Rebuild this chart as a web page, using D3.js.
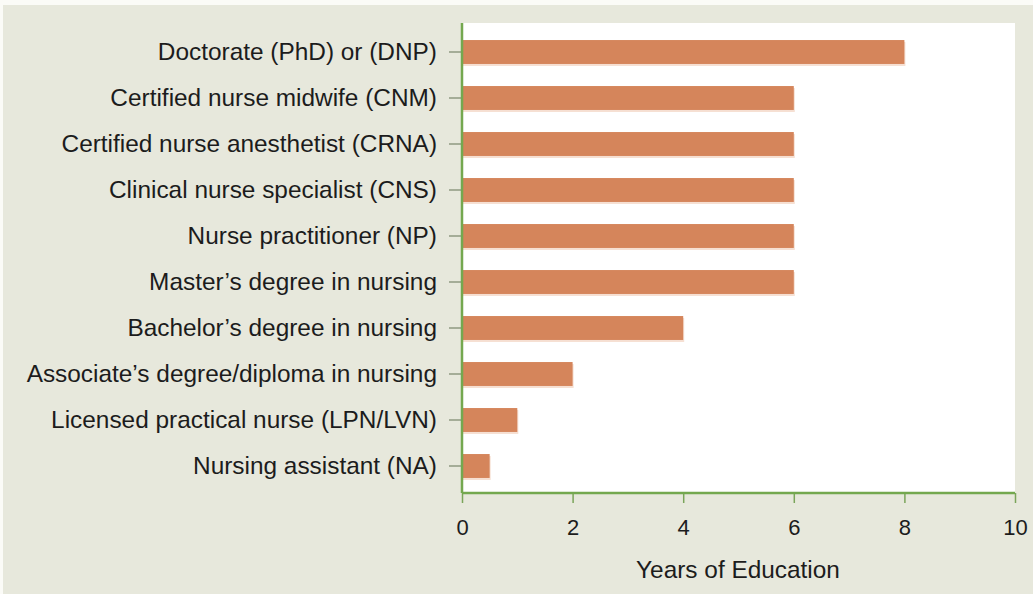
<!DOCTYPE html>
<html lang="en">
<head>
    <meta charset="UTF-8">
    <title>Years of Education</title>
    <script src="https://d3js.org/d3.v7.min.js"></script>
    <style>
        body { margin: 0; background: #fbfbf7; }
        svg { display: block; font-family: "Liberation Sans", Arial, sans-serif; }
        .y-axis text { font-size: 24.4px; fill: #1c1c1c; }
        .x-axis text { font-size: 22px; fill: #1c1c1c; }
        .y-axis .tick line { stroke: #8f9a82; stroke-width: 1.5; }
        .x-axis .tick line { stroke: #7aa55a; stroke-width: 1.5; }
        .domain { display: none; }
        .axis-title { font-size: 24.4px; fill: #1c1c1c; text-anchor: middle; }
    </style>
</head>
<body>
<script>
    const categories = [
        "Doctorate (PhD) or (DNP)",
        "Certified nurse midwife (CNM)",
        "Certified nurse anesthetist (CRNA)",
        "Clinical nurse specialist (CNS)",
        "Nurse practitioner (NP)",
        "Master\u2019s degree in nursing",
        "Bachelor\u2019s degree in nursing",
        "Associate\u2019s degree/diploma in nursing",
        "Licensed practical nurse (LPN/LVN)",
        "Nursing assistant (NA)"
    ];
    const years = [8, 6, 6, 6, 6, 6, 4, 2, 1, 0.5];
    const xTicks = [0, 2, 4, 6, 8, 10];

    const width = 1033, height = 594;
    const plotLeft = 462, plotRight = 1015, plotTop = 23, plotBottom = 493;

    const svg = d3.select("body").append("svg")
        .attr("width", width).attr("height", height);

    // beige panel with a thin light margin top/left
    svg.append("rect").attr("x", 3).attr("y", 5)
        .attr("width", width - 3).attr("height", height - 5)
        .attr("fill", "#e7e8dc");

    svg.append("rect")
        .attr("x", plotLeft).attr("y", plotTop)
        .attr("width", plotRight - plotLeft).attr("height", plotBottom - plotTop)
        .attr("fill", "#ffffff");

    const x = d3.scaleLinear().domain([0, 10]).range([plotLeft, plotRight]);
    const y = d3.scaleBand().domain(categories).range([29, 489])
        .paddingInner(0.48).paddingOuter(0.24);

    const data = categories.map((c, i) => ({cat: c, val: years[i]}));

    // soft shadow under bars
    svg.append("g").selectAll("rect").data(data).join("rect")
        .attr("x", x(0)).attr("y", d => y(d.cat) + 2)
        .attr("width", d => x(d.val) - x(0) + 1)
        .attr("height", y.bandwidth())
        .attr("fill", "#f6dfd2");

    svg.append("g").selectAll("rect").data(data).join("rect")
        .attr("x", x(0)).attr("y", d => y(d.cat))
        .attr("width", d => x(d.val) - x(0))
        .attr("height", y.bandwidth())
        .attr("fill", "#d5855b");

    svg.append("g").attr("class", "y-axis")
        .attr("transform", `translate(${plotLeft - 1},0)`)
        .call(d3.axisLeft(y).tickSize(12).tickPadding(12));

    svg.append("g").attr("class", "x-axis")
        .attr("transform", `translate(0,${plotBottom})`)
        .call(d3.axisBottom(x).tickValues(xTicks).tickSize(10).tickPadding(16)
            .tickFormat(d3.format("d")));

    // green axis lines
    svg.append("line")
        .attr("x1", plotLeft).attr("x2", plotLeft)
        .attr("y1", plotTop).attr("y2", plotBottom)
        .attr("stroke", "#74a84f").attr("stroke-width", 2.5);
    svg.append("line")
        .attr("x1", plotLeft).attr("x2", plotRight)
        .attr("y1", plotBottom).attr("y2", plotBottom)
        .attr("stroke", "#74a84f").attr("stroke-width", 2.5);

    svg.append("text").attr("class", "axis-title")
        .attr("x", 738).attr("y", 578)
        .text("Years of Education");
</script>
</body>
</html>
